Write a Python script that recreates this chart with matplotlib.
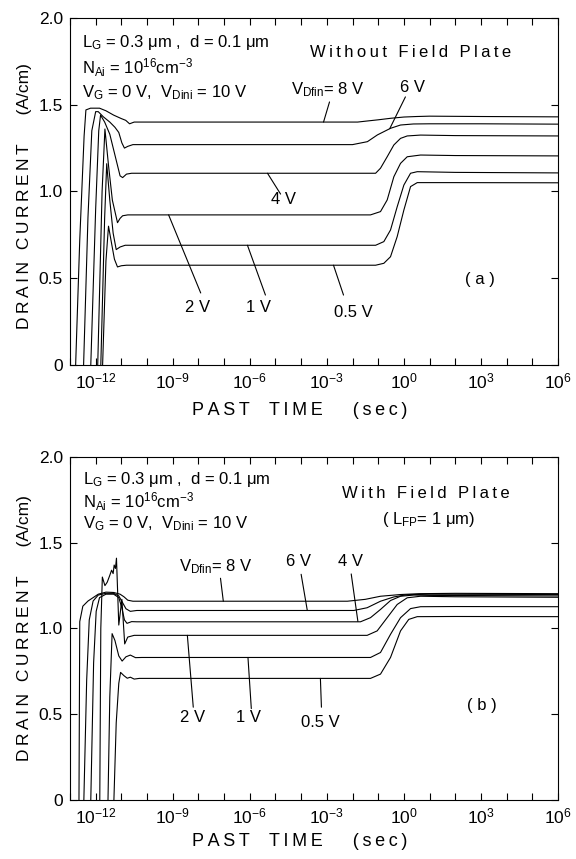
import numpy as np
import matplotlib
matplotlib.use('Agg')
import matplotlib.pyplot as plt
from matplotlib.ticker import FixedLocator, NullFormatter, LogFormatterSciNotation

plt.rcParams['font.family'] = ['Liberation Sans', 'DejaVu Sans']
plt.rcParams['mathtext.fontset'] = 'custom'
plt.rcParams['mathtext.rm'] = 'Liberation Sans'
plt.rcParams['mathtext.it'] = 'Liberation Sans'
plt.rcParams['mathtext.default'] = 'regular'

#Donnees : log10(temps) et courant de drain (A/cm)
labels = ['8 V', '6 V', '4 V', '2 V', '1 V', '0.5 V']

#(a) sans field plate
a_8v_logt = [-12.78, -12.62, -12.45, -12.38, -12.2, -11.85, -11.6, -11.3, -11.0, -10.83, -10.68, -10.5, -1.8, -1.5, -1.0, -0.5, 0.0, 0.5, 1.0, 3.0, 6.0]
a_8v_cur = [0.0, 0.72, 1.32, 1.47, 1.48, 1.48, 1.465, 1.44, 1.42, 1.41, 1.39, 1.40, 1.40, 1.405, 1.413, 1.422, 1.429, 1.432, 1.434, 1.432, 1.43]
a_6v_logt = [-12.47, -12.3, -12.15, -12.0, -11.9, -11.7, -11.45, -11.25, -11.1, -10.98, -10.88, -10.75, -10.55, -2.0, -1.42, -1.03, -0.52, -0.13, 0.37, 1.0, 3.0, 6.0]
a_6v_cur = [0.0, 0.85, 1.35, 1.46, 1.46, 1.43, 1.40, 1.37, 1.34, 1.28, 1.25, 1.26, 1.27, 1.27, 1.287, 1.326, 1.364, 1.383, 1.389, 1.39, 1.39, 1.388]
a_4v_logt = [-12.19, -12.0, -11.88, -11.81, -11.65, -11.45, -11.3, -11.15, -11.05, -10.95, -10.8, -10.6, -1.1, -0.91, -0.65, -0.39, -0.13, 0.13, 0.65, 2.0, 6.0]
a_4v_cur = [0.0, 0.9, 1.35, 1.44, 1.40, 1.33, 1.24, 1.15, 1.09, 1.08, 1.10, 1.105, 1.105, 1.134, 1.20, 1.268, 1.306, 1.32, 1.325, 1.322, 1.32]
a_2v_logt = [-11.92, -11.75, -11.64, -11.5, -11.35, -11.15, -11.05, -10.95, -10.75, -1.3, -0.91, -0.65, -0.39, -0.13, 0.13, 0.65, 2.0, 6.0]
a_2v_cur = [0.0, 1.0, 1.36, 1.15, 0.95, 0.82, 0.845, 0.86, 0.865, 0.865, 0.884, 0.951, 1.085, 1.162, 1.20, 1.21, 1.207, 1.205]
a_1v_logt = [-11.8, -11.65, -11.57, -11.45, -11.32, -11.2, -11.05, -10.85, -1.1, -0.78, -0.52, -0.26, 0.0, 0.26, 0.52, 2.0, 6.0]
a_1v_cur = [0.0, 0.85, 1.16, 0.95, 0.76, 0.665, 0.68, 0.69, 0.69, 0.711, 0.778, 0.912, 1.037, 1.105, 1.114, 1.11, 1.107]
a_05v_logt = [-11.73, -11.6, -11.5, -11.38, -11.27, -11.15, -11.0, -10.8, -1.1, -0.78, -0.52, -0.26, 0.0, 0.26, 0.52, 2.0, 6.0]
a_05v_cur = [0.0, 0.6, 0.80, 0.70, 0.61, 0.565, 0.572, 0.575, 0.575, 0.586, 0.624, 0.74, 0.893, 1.028, 1.051, 1.051, 1.05]

#(b) avec field plate
b_8v_logt = [-12.65, -12.62, -12.5, -12.3, -12.1, -11.9, -11.6, -11.3, -11.05, -10.9, -10.75, -10.55, -2.2, -1.5, -0.91, -0.13, 0.6, 2.0, 6.0]
b_8v_cur = [0.0, 1.04, 1.13, 1.16, 1.18, 1.20, 1.212, 1.21, 1.20, 1.185, 1.165, 1.159, 1.159, 1.17, 1.188, 1.198, 1.203, 1.205, 1.203]
b_6v_logt = [-12.46, -12.35, -12.25, -12.1, -11.9, -11.6, -11.3, -11.1, -10.95, -10.82, -10.65, -10.4, -1.95, -1.43, -0.91, -0.39, 0.13, 1.0, 6.0]
b_6v_cur = [0.0, 0.7, 1.05, 1.16, 1.195, 1.205, 1.205, 1.19, 1.15, 1.115, 1.10, 1.105, 1.105, 1.121, 1.159, 1.184, 1.197, 1.20, 1.198]
b_4v_logt = [-12.19, -12.08, -11.98, -11.85, -11.6, -11.3, -11.1, -10.98, -10.88, -10.78, -10.6, -10.4, -1.69, -1.3, -0.91, -0.52, -0.13, 0.39, 1.0, 6.0]
b_4v_cur = [0.0, 0.8, 1.10, 1.18, 1.20, 1.20, 1.18, 1.12, 1.05, 1.03, 1.04, 1.039, 1.039, 1.063, 1.111, 1.163, 1.188, 1.195, 1.193, 1.19]
b_2v_logt = [-11.84, -11.8, -11.74, -11.64, -11.55, -11.45, -11.38, -11.32, -11.28, -11.23, -11.19, -11.1, -10.98, -10.87, -10.75, -10.5, -1.43, -1.04, -0.65, -0.26, 0.13, 0.65, 2.0, 6.0]
b_2v_cur = [0.0, 1.0, 1.30, 1.25, 1.27, 1.31, 1.34, 1.32, 1.37, 1.35, 1.41, 1.02, 1.17, 0.91, 0.95, 0.96, 0.96, 0.986, 1.063, 1.14, 1.179, 1.188, 1.185, 1.182]
b_1v_logt = [-11.52, -11.45, -11.36, -11.25, -11.1, -10.97, -10.82, -10.65, -10.45, -10.2, -1.3, -0.91, -0.52, -0.13, 0.26, 0.65, 2.0, 6.0]
b_1v_cur = [0.0, 0.6, 0.97, 0.93, 0.84, 0.81, 0.835, 0.845, 0.83, 0.831, 0.831, 0.86, 0.966, 1.063, 1.116, 1.127, 1.128, 1.127]
b_05v_logt = [-11.29, -11.2, -11.1, -11.03, -10.9, -10.77, -10.65, -10.5, -10.3, -1.3, -0.91, -0.52, -0.13, 0.19, 0.52, 2.0, 6.0]
b_05v_cur = [0.0, 0.45, 0.68, 0.744, 0.725, 0.71, 0.716, 0.705, 0.709, 0.709, 0.734, 0.831, 0.986, 1.053, 1.069, 1.07, 1.069]

curves_a = [(a_8v_logt, a_8v_cur), (a_6v_logt, a_6v_cur), (a_4v_logt, a_4v_cur),
            (a_2v_logt, a_2v_cur), (a_1v_logt, a_1v_cur), (a_05v_logt, a_05v_cur)]
curves_b = [(b_8v_logt, b_8v_cur), (b_6v_logt, b_6v_cur), (b_4v_logt, b_4v_cur),
            (b_2v_logt, b_2v_cur), (b_1v_logt, b_1v_cur), (b_05v_logt, b_05v_cur)]

major_exp = [-12, -9, -6, -3, 0, 3, 6]
minor_exp = list(range(-13, 7))
yticks = [0, 0.5, 1.0, 1.5, 2.0]
yticklabels = ['0', '0.5', '1.0', '1.5', '2.0']


def spread(s):
    #espacement des lettres (police traceur)
    return '\u2009'.join(s)


fig = plt.figure(figsize=(5.76, 8.59), dpi=100)
ax_a = fig.add_axes([0.1215, 0.5751, 0.8472, 0.404])
ax_b = fig.add_axes([0.1215, 0.0687, 0.8472, 0.3993])

for ax, curves in [(ax_a, curves_a), (ax_b, curves_b)]:
    for logt, cur in curves:
        ax.plot(10.0**np.array(logt), cur, color='black', linewidth=0.8)
    ax.set_xscale('log')
    ax.set_xlim(1e-13, 1e6)
    ax.set_ylim(0, 2.0)
    ax.xaxis.set_major_locator(FixedLocator([10.0**e for e in major_exp]))
    ax.xaxis.set_major_formatter(LogFormatterSciNotation())
    ax.xaxis.set_minor_locator(FixedLocator([10.0**e for e in minor_exp]))
    ax.xaxis.set_minor_formatter(NullFormatter())
    ax.set_yticks(yticks)
    ax.set_yticklabels(yticklabels)
    ax.tick_params(which='both', direction='in', top=True, right=True, length=5, width=0.8, labelsize=12.5)
    ax.tick_params(axis='x', pad=5)
    ax.tick_params(axis='y', pad=5)
    for sp in ax.spines.values():
        sp.set_linewidth(0.8)
    ax.set_ylabel(spread('DRAIN CURRENT') + '      (A/cm)', fontsize=12.5)
    ax.set_xlabel(spread('PAST') + '    ' + spread('TIME') + '      ' + spread('(sec)'), fontsize=13)
    ax.xaxis.label.set_va('center')
    ax.yaxis.label.set_va('center')

ax_a.yaxis.set_label_coords(-0.094, 0.487)
ax_a.xaxis.set_label_coords(0.471, -0.13)
ax_b.yaxis.set_label_coords(-0.094, 0.50)
ax_b.xaxis.set_label_coords(0.471, -0.12)

#Textes des parametres
params_txt = [r'L$_G$ = 0.3 μm ,  d = 0.1 μm',
              r'N$_{Ai}$ = 10$^{16}$cm$^{-3}$',
              r'V$_G$ = 0 V,  V$_{Dini}$ = 10 V']
for i, t in enumerate(params_txt):
    ax_a.text(0.025, 0.928 - 0.072 * i, t, transform=ax_a.transAxes, fontsize=12, va='center', ha='left')
    ax_b.text(0.027, 0.933 - 0.063 * i, t, transform=ax_b.transAxes, fontsize=12, va='center', ha='left')

ax_a.text(10**0.26, 1.80, spread('Without Field Plate'), fontsize=12, ha='center', va='center')
ax_a.text(10**2.98, 0.49, '( a )', fontsize=12, ha='center', va='center')
ax_b.text(10**0.84, 1.787, spread('With Field Plate'), fontsize=12, ha='center', va='center')
ax_b.text(10**0.96, 1.635, r'( L$_{FP}$= 1 μm)', fontsize=12, ha='center', va='center')
ax_b.text(10**3.05, 0.551, '( b )', fontsize=12, ha='center', va='center')

#Etiquettes des courbes et traits de rappel (log t texte, I texte, log t debut, I debut, log t fin, I fin)
leaders_a = [(r'V$_{Dfin}$= 8 V', -2.97, 1.585, -2.895, 1.516, -3.128, 1.40),
             ('6 V', 0.335, 1.597, 0.06, 1.545, -0.55, 1.362),
             ('4 V', -4.68, 0.951, -4.8, 0.985, -5.31, 1.105),
             ('2 V', -8.03, 0.329, -7.91, 0.415, -9.16, 0.865),
             ('1 V', -5.66, 0.329, -5.39, 0.403, -6.09, 0.69),
             ('0.5 V', -1.96, 0.305, -2.35, 0.403, -2.74, 0.575)]
leaders_b = [(r'V$_{Dfin}$= 8 V', -7.33, 1.362, -7.14, 1.293, -7.03, 1.159),
             ('6 V', -4.10, 1.391, -4.0, 1.316, -3.76, 1.105),
             ('4 V', -2.08, 1.391, -2.05, 1.318, -1.79, 1.041),
             ('2 V', -8.24, 0.483, -8.2, 0.541, -8.43, 0.96),
             ('1 V', -6.05, 0.483, -5.94, 0.533, -6.07, 0.831),
             ('0.5 V', -3.25, 0.454, -3.21, 0.541, -3.25, 0.709)]

for ax, leaders in [(ax_a, leaders_a), (ax_b, leaders_b)]:
    for txt, tx, ty, x0, y0, x1, y1 in leaders:
        ax.text(10**tx, ty, txt, fontsize=12, ha='center', va='center')
        ax.annotate('', xy=(10**x1, y1), xytext=(10**x0, y0),
                    arrowprops=dict(arrowstyle='-', color='black', lw=0.8, shrinkA=0, shrinkB=0))

fig.savefig('out.png', dpi=100)
